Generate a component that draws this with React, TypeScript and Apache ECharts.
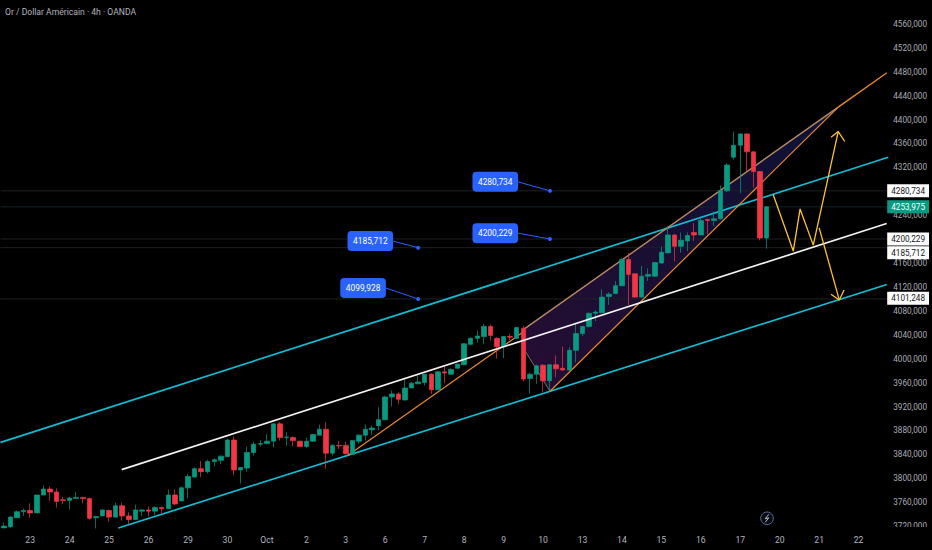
import React, { useEffect, useRef } from "react";
import * as echarts from "echarts";

const titleText = "Or / Dollar Américain · 4h · OANDA";
const FONT = "Roboto";

// 4h candles, one per band of the category axis
const opens = [3717,3719,3734,3744,3746,3742,3772,3782,3777,3764,3763,3766,3768,3766,3734,3737,3746,3735,3754,3737,3731,3745,3747,3745,3751,3749,3772,3762,3784,3802,3816,3811,3828,3830,3836,3864,3814,3817,3843,3857,3858,3862,3891,3868,3868,3862,3853,3862,3872,3882,3842,3855,3855,3840,3862,3872,3881,3888,3898,3936,3941,3931,3951,3958,3960,3974,3948,3978,3974,3984,3990,4024,4034,4037,4054,4034,4020,4037,4034,4051,3967,3974,3989,3963,3990,3984,3981,4014,4042,4054,4076,4077,4104,4109,4122,4166,4142,4103,4138,4138,4160,4177,4207,4188,4197,4211,4207,4233,4231,4234,4281,4337,4357,4376,4346,4313,4202];
const closes = [3720,3735,3744,3746,3742,3772,3782,3777,3761,3763,3767,3768,3766,3733,3736,3747,3735,3754,3737,3731,3747,3747,3745,3751,3749,3772,3757,3784,3803,3816,3811,3828,3831,3837,3864,3814,3818,3843,3857,3858,3862,3891,3868,3869,3863,3853,3862,3873,3882,3842,3855,3854,3841,3863,3872,3882,3884,3898,3936,3941,3932,3951,3959,3961,3974,3948,3978,3976,3982,3991,4025,4034,4038,4054,4039,4020,4037,4036,4052,3966,3974,3988,3963,3990,3983,3981,4014,4042,4054,4076,4078,4103,4108,4122,4166,4141,4103,4138,4141,4161,4178,4207,4188,4198,4206,4207,4231,4231,4234,4281,4324,4357,4376,4346,4313,4202,4254];
const lows = [3717,3717,3734,3737,3734,3742,3772,3763,3751,3757,3748,3766,3758,3731,3716,3737,3727,3734,3729,3723,3730,3737,3736,3738,3742,3749,3755,3762,3766,3801,3802,3808,3820,3824,3836,3805,3791,3811,3838,3853,3857,3852,3863,3854,3853,3853,3851,3861,3872,3816,3838,3849,3840,3840,3858,3863,3872,3880,3898,3920,3924,3930,3951,3958,3955,3941,3948,3959,3973,3983,3989,4022,4027,4024,4030,4000,4001,4031,4033,3962,3942,3958,3945,3947,3969,3980,3980,3994,4038,4052,4063,4076,4090,4108,4122,4090,4102,4102,4130,4137,4159,4177,4163,4177,4180,4197,4207,4208,4222,4233,4279,4333,4277,4313,4286,4198,4184];
const highs = [3726,3737,3746,3749,3758,3772,3788,3786,3783,3769,3769,3777,3769,3768,3737,3748,3748,3759,3759,3743,3756,3748,3753,3753,3753,3781,3781,3786,3807,3818,3829,3831,3833,3838,3866,3870,3819,3853,3861,3864,3874,3891,3894,3877,3870,3863,3868,3874,3890,3894,3857,3862,3861,3863,3874,3890,3888,3919,3938,3947,3944,3966,3961,3972,3974,3976,3979,3987,3984,3991,4026,4036,4047,4058,4057,4036,4038,4042,4053,4055,3977,3990,3991,3991,4005,4020,4019,4058,4055,4077,4081,4116,4111,4130,4168,4177,4142,4155,4151,4162,4188,4222,4208,4211,4211,4227,4238,4234,4246,4290,4327,4380,4377,4377,4347,4314,4253];

// x axis: one label every six bars, the first on bar 4
const dayTicks = ["23","24","25","26","29","30","Oct","2","3","6","7","8","9","10","13","14","15","16","17","20","21","22"];
const firstTickBar = 4;
const barsPerTick = 6;
const totalBars = 135;

// Drawings, as [bar, price]
const upperChannel = [[0,3860],[135,4337]];
const middleLine = [[18.42,3814.5],[134.77,4226.2]];
const lowerChannel = [[17.9,3716.7],[134.8,4124.2]];
const risingOrange = [[52.84,3838.3],[79.3,4043.3]];
const wedgeTop = [[79.45,4048.3],[127.4,4420.8]];
const wedgeBottom = [[83.56,3945.5],[127.4,4420.8]];
const wedgeExtension = [[127.4,4420.8],[134.8,4478.3]];
const wedgeBase = [[79.76,4013.3],[83.56,3945.5]];
const wedgeFillPoints = [[79.45,4048.3],[127.4,4420.8],[83.56,3945.5],[79.76,4013.3]];
const zigzag = [[117.5,4274.5],[120.56,4180],[121.6,4250.5],[123.6,4190],[127.4,4380]];
const upHead = [[126.3,4370.5],[127.4,4380],[128.4,4363.3]];
const downArrow = [[124.5,4218.8],[127.56,4098.3]];
const downHead = [[126.3,4107.8],[127.56,4098.3],[128.3,4115]];

// Horizontal levels
const levelPrices = [4280.734,4253.975,4200.229,4185.712,4099.928];
const levelColors = ["#1e2123","#0b2a27","#1e2123","#1e2123","#1e2123"];

// Blue callouts: text, start of the leader, dot
const calloutTexts = ["4280,734","4200,229","4185,712","4099,928"];
const calloutStarts = [[78.7,4295.8],[78.7,4210],[59.7,4196.7],[58.6,4118.3]];
const calloutEnds = [[83.56,4280.7],[83.56,4200.2],[63.5,4185.7],[63.5,4099.9]];

// Price tags on the right scale
const tagPrices = [4280.734,4253.975,4200.229,4185.712,4101.248];
const tagTexts = ["4280,734","4253,975","4200,229","4185,712","4101,248"];
const tagOffsets = [0,0,0,5,0];
const tagFills = ["#ffffff","#089981","#ffffff","#ffffff","#ffffff"];
const tagInks = ["#131722","#ffffff","#131722","#131722","#131722"];

// Scale ticks that sit wholly behind a price tag, and the ticks outside the picture
const unlabelledTicks = [3680, 4200, 4280, 4600];

const UP = "#089981";
const DOWN = "#f23645";

function lineSeries(name: string, data: number[][], color: string, width: number, z: number) {
  return {
    name,
    type: "line",
    xAxisIndex: 1,
    yAxisIndex: 0,
    data,
    symbol: "none",
    silent: true,
    z,
    lineStyle: { color, width },
  };
}

export default function App() {
  const ref = useRef<HTMLDivElement>(null);
  useEffect(() => {
    document.body.style.margin = "0";
    document.body.style.background = "#000";
    const chart = echarts.init(ref.current!, null, { renderer: "svg" });
    const categories = Array.from({ length: totalBars }, (_, i) => {
      const k = (i - firstTickBar) / barsPerTick;
      return Number.isInteger(k) && k >= 0 && k < dayTicks.length ? dayTicks[k] : "";
    });
    const candles = opens.map((o, i) => [o, closes[i], lows[i], highs[i]]);

    chart.setOption({
      animation: false,
      backgroundColor: "#000000",
      title: {
        text: titleText,
        left: 5,
        top: 7,
        padding: 0,
        textStyle: { color: "#b2b5be", fontSize: 8.6, fontWeight: "normal", fontFamily: FONT },
      },
      grid: { left: 0.6, top: -2, width: 887.6, height: 552 },
      xAxis: [
        {
          type: "category",
          data: categories,
          boundaryGap: true,
          axisLine: { show: false },
          axisTick: { show: false },
          splitLine: { show: false },
          axisLabel: {
            interval: 0,
            inside: true,
            margin: 6,
            color: "#b2b5be",
            fontSize: 8.6,
            fontFamily: FONT,
            hideOverlap: false,
          },
        },
        { type: "value", min: 0, max: totalBars, show: false },
      ],
      yAxis: {
        type: "value",
        position: "right",
        min: 3680,
        max: 4600,
        interval: 40,
        scale: true,
        axisLine: { show: false },
        axisTick: { show: false },
        splitLine: { show: false },
        axisLabel: {
          color: "#a8abb3",
          fontSize: 8.2,
          fontFamily: FONT,
          margin: 5,
          formatter: (v: number) =>
            unlabelledTicks.includes(v) ? "" : v.toFixed(3).replace(".", ","),
        },
      },
      series: [
        ...levelPrices.map((p, i) =>
          lineSeries("level" + i, [[0, p], [totalBars, p]], levelColors[i], 1, 1)
        ),
        {
          name: "wedge",
          type: "custom",
          xAxisIndex: 1,
          yAxisIndex: 0,
          silent: true,
          z: 1,
          clip: false,
          data: [0],
          renderItem: (_p: any, api: any) => ({
            type: "polygon",
            shape: { points: wedgeFillPoints.map((pt) => api.coord(pt)) },
            style: {
              fill: new echarts.graphic.LinearGradient(0, 1, 1, 0, [
                { offset: 0, color: "#260d33" },
                { offset: 0.55, color: "#170f33" },
                { offset: 1, color: "#0d1338" },
              ]),
            },
          }),
        },
        lineSeries("upper", upperChannel, "#10bcd4", 1.7, 2),
        lineSeries("lower", lowerChannel, "#10bcd4", 1.7, 2),
        lineSeries("wedgeBase", wedgeBase, "#8a8a8a", 0.8, 2),
        lineSeries("rising", risingOrange, "#e8892b", 1.2, 2),
        lineSeries("wedgeTop", wedgeTop, "#b98a62", 1.4, 2),
        lineSeries("wedgeBottom", wedgeBottom, "#e8892b", 1.2, 2),
        lineSeries("extension", wedgeExtension, "#e8892b", 1.4, 2),
        {
          name: "XAU",
          type: "candlestick",
          xAxisIndex: 0,
          yAxisIndex: 0,
          barWidth: 5,
          data: candles,
          silent: true,
          z: 3,
          itemStyle: {
            color: UP,
            color0: DOWN,
            borderColor: UP,
            borderColor0: DOWN,
            borderWidth: 0.7,
          },
        },
        lineSeries("middle", middleLine, "#f2f2f2", 1.7, 4),
        lineSeries("zigzag", zigzag, "#ffc233", 1.3, 5),
        lineSeries("upHead", upHead, "#ffc233", 1.3, 5),
        lineSeries("downArrow", downArrow, "#ffc233", 1.3, 5),
        lineSeries("downHead", downHead, "#ffc233", 1.3, 5),
        ...calloutTexts.map((_t, i) => ({
          name: "leader" + i,
          type: "line",
          xAxisIndex: 1,
          yAxisIndex: 0,
          silent: true,
          z: 6,
          showSymbol: true,
          symbol: "circle",
          symbolSize: 4,
          lineStyle: { color: "#2962ff", width: 1 },
          itemStyle: { color: "#2962ff" },
          data: [{ value: calloutStarts[i], symbolSize: 0 }, { value: calloutEnds[i] }],
        })),
        {
          name: "callouts",
          type: "scatter",
          xAxisIndex: 1,
          yAxisIndex: 0,
          silent: true,
          z: 7,
          clip: false,
          symbolSize: 0,
          itemStyle: { opacity: 1 },
          data: calloutTexts.map((text, i) => ({
            value: calloutStarts[i],
            label: {
              show: true,
              position: "left",
              distance: 0,
              opacity: 1,
              formatter: text,
              color: "#ffffff",
              fontFamily: FONT,
              fontSize: 8.4,
              backgroundColor: "#2962ff",
              borderRadius: 4,
              padding: [6, 5.5],
            },
          })),
        },
        {
          name: "tags",
          type: "scatter",
          xAxisIndex: 1,
          yAxisIndex: 0,
          silent: true,
          z: 8,
          clip: false,
          symbolSize: 0,
          itemStyle: { opacity: 1 },
          data: tagPrices.map((p, i) => ({
            value: [totalBars, p],
            label: {
              show: true,
              position: "right",
              distance: -1,
              opacity: 1,
              offset: [0, tagOffsets[i]],
              formatter: tagTexts[i],
              color: tagInks[i],
              backgroundColor: tagFills[i],
              fontFamily: FONT,
              fontSize: 8.2,
              padding: [2.5, 4],
            },
          })),
        },
      ],
      graphic: [
        {
          type: "rect",
          z: 100,
          shape: { x: 888, y: 527, width: 44, height: 23 },
          style: { fill: "#000000" },
        },
        {
          type: "circle",
          z: 100,
          shape: { cx: 767, cy: 518.3, r: 6.3 },
          style: { fill: "#0a0c12", stroke: "#55719f", lineWidth: 1 },
        },
        {
          type: "polyline",
          z: 101,
          shape: { points: [[768.8, 514.3], [765.2, 518.8], [768.8, 517.8], [765.2, 522.3]] },
          style: { fill: "none", stroke: "#b8bcc4", lineWidth: 1 },
        },
      ],
    });
    return () => chart.dispose();
  }, []);
  return <div ref={ref} style={{ width: 932, height: 550 }} />;
}
